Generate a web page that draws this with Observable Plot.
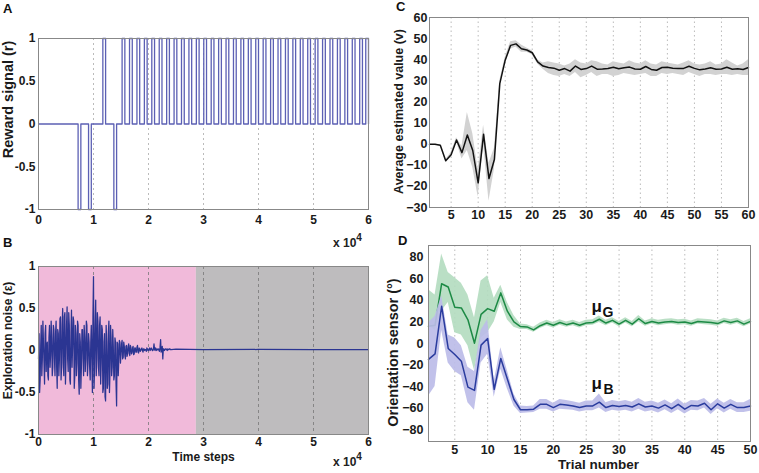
<!DOCTYPE html>
<html><head><meta charset="utf-8">
<script src="https://cdn.jsdelivr.net/npm/d3@7"></script>
<script src="https://cdn.jsdelivr.net/npm/@observablehq/plot@0.6"></script>
<style>
body{margin:0;background:#fff;}
#fig{position:relative;width:759px;height:473px;overflow:hidden;background:#fff;font-family:"Liberation Sans",Arial,sans-serif;}
.panel{position:absolute;}
.panel svg{overflow:visible;}
.lbl{position:absolute;font-weight:bold;font-size:13px;color:#111;line-height:1;}
.exp{position:absolute;font-weight:bold;font-size:12px;color:#222;line-height:1;white-space:nowrap;}
.exp sup{font-size:10px;vertical-align:6px;}
</style></head><body><div id="fig"></div>
<script>
// ---------- Panel A: reward signal ----------
const rewardNegStarts = [7200, 9100, 13700];
const rewardPosStarts = [11700, 15200, 16550, 17900, 19250, 20600, 21950, 23300, 24650, 26000, 27350, 28700,
  30050, 31400, 32750, 34100, 35450, 36800, 38150, 39500, 40850, 42200, 43550, 44900, 46250, 47600,
  48950, 50300, 51650, 53000, 54350, 55700, 57050, 58400, 59500];
const rewardPulseWidth = 500;
const timeTicks = [0, 10000, 20000, 30000, 40000, 50000, 60000];
const timeGrid = [10000, 20000, 30000, 40000, 50000];
const rewardTicks = [-1, -0.5, 0, 0.5, 1];

// ---------- Panel B: exploration noise ----------
const noiseStep = 200;
// samples at i*200
const noiseVals = [
  -0.1, -0.5, 0.05, -0.3, 0.35, -0.15, 0.2, -0.25, 0.1, -0.35,
  0.3, -0.05, 0.15, -0.2, 0.25, -0.3, 0.35, -0.45, 0.2, -0.1,
  0.4, -0.2, 0.5, -0.3, 0.45, -0.1, 0.52, -0.25, 0.3, -0.4,
  0.48, 0.05, 0.35, -0.3, 0.2, -0.15, 0.3, -0.52, 0.1, -0.2,
  0.25, -0.3, 0.15, -0.1, 0.3, -0.15, 0.1, -0.35, 0.3, -0.5,
  0.88, -0.2, 0.6, -0.1, 0.35, -0.3, 0.4, -0.15, 0.25, -0.45,
  0.2, -0.6, 0.1, -0.4, 0.35, -0.25, 0.15, -0.2, 0.05, -0.3,
  0.1, -0.66, 0.08, -0.12, 0.1, -0.05, 0.12, -0.08, 0.05, -0.1,
  0.06, -0.04, 0.08, -0.06, 0.04, -0.03, 0.05, -0.04, 0.03, -0.02,
  0.06, -0.03, 0.02, 0.0, 0.03, -0.02, 0.02, 0.01, -0.01, 0.02,
  0.0, 0.03, 0.01, 0.02, 0.0, 0.08, 0.0, 0.02, 0.01, 0.02,
  -0.01, 0.13, 0.0, -0.1, 0.02, 0.01, 0.02, 0.0, 0.01, 0.02, 0.01
];
// samples at i*200 + 100
const noiseMid = [
  0.2, -0.35, 0.3, -0.1, 0.1, -0.4, 0.3, 0.05, -0.3, 0.15,
  -0.2, 0.35, -0.3, 0.3, -0.1, 0.2, -0.2, 0.25, -0.3, 0.38,
  -0.35, 0.3, -0.15, 0.4, -0.4, 0.3, -0.1, 0.45, -0.35, 0.2,
  -0.2, 0.4, -0.45, 0.3, -0.3, 0.35, -0.35, 0.2, -0.45, 0.25,
  -0.1, 0.3, -0.25, 0.35, -0.3, 0.2, -0.2, 0.1, -0.1, 0.4,
  -0.45, 0.3, -0.3, 0.45, -0.2, 0.3, -0.4, 0.3, -0.5, 0.1,
  -0.55, 0.3, -0.45, 0.2, -0.5, 0.3, -0.3, 0.25, -0.35, 0.15,
  -0.4, 0.1, -0.3, 0.12, -0.15, 0.08, -0.1, 0.1, -0.06, 0.05,
  -0.07, 0.05, -0.03, 0.06, -0.04, 0.03, -0.05, 0.03, -0.02, 0.04,
  -0.02, 0.03, -0.01, 0.02, 0.0, 0.02, 0.0, 0.01, 0.03, 0.0,
  0.02, 0.0, 0.03, 0.0, 0.02, 0.01, 0.03, 0.0, 0.02, 0.0,
  0.04, -0.02, 0.05, 0.02, 0.0, 0.02, 0.01, 0.02, 0.01, 0.02, 0.01
];
const noiseTailT = [25000, 30000, 40000, 50000, 60000];
const noiseTailV = [0.015, 0.01, 0.012, 0.01, 0.01];
const learningEnd = 28700;
const noiseTicks = [-1, -0.5, 0, 0.5, 1];

// ---------- Panel C: average estimated value ----------
const cMean = [0, 0, -0.5, -7.9, -5, 2, -4, 4.3, -3, -18.3, 4.7, -16.3, -7.3, 28.7, 39.8, 46.8, 47.5, 45.2, 44.6, 43.3,
  39, 37, 36.3, 36, 35, 35.8, 34.6, 37, 35.4, 35.8, 37, 35.5, 35.6, 35.8, 36.4, 35.7, 36.2, 36.5, 35.6, 35.5,
  36.8, 35.4, 35, 36.3, 36.4, 36, 35.8, 35.9, 36.9, 35.9, 35.2, 35.6, 36.2, 35.5, 35.6, 36.4, 35.5, 35.7, 35.4, 36.3];
const cUpper = [0, 0, -0.3, -7.4, -4, 3, -1, 15, 5, -12, 9, -9, -2, 30, 41, 48.5, 49, 47, 45.5, 44.3,
  40, 38.5, 39, 38.5, 38, 37, 38, 40, 38.5, 38, 39.5, 39, 38, 37.5, 39, 38.5, 38, 39.5, 38.5, 38,
  39.5, 38, 37.5, 39, 38.5, 38, 37.5, 38.5, 39.5, 38, 37.5, 38, 39, 37.5, 38, 40, 38.5, 37, 38, 40];
const cLower = [0, 0, -0.7, -8.4, -6, 1, -7, -3, -11, -25, 0, -27, -12, 27, 38.5, 45, 46, 43.5, 43.5, 42.3,
  38, 35.5, 33.5, 32.5, 32, 33, 32, 34, 31.5, 32.5, 34, 32, 33, 33, 32, 32.5, 33.5, 33, 32.5, 33,
  33.5, 32, 32, 33.5, 33, 33.5, 33, 32.5, 34, 33, 32, 33, 33, 32.5, 33, 33, 32.5, 33, 32.5, 32.5];
const cYTicks = [-30, -20, -10, 0, 10, 20, 30, 40, 50, 60];
const cXTicks = [5, 10, 15, 20, 25, 30, 35, 40, 45, 50, 55, 60];

// ---------- Panel D: orientation sensor ----------
const gMean = [16, 17, 55.5, 52.5, 33.6, 33, 22, 0.3, 27, 32.4, 30, 47, 30, 20, 15.7, 15.4,
  12.6, 16.5, 19, 17, 19.5, 17.5, 19, 17, 19, 19.5, 22.5, 19, 21.5, 18, 21.5, 18, 23, 18.5, 20.5, 19,
  20, 20.5, 19.5, 20, 18.5, 20.5, 20, 19.5, 18.5, 21, 19.5, 21, 18, 20.5];
const gUpper = [50, 45, 83, 66, 61, 56, 45, 24, 58, 63, 42, 54, 38, 26, 18, 17.5,
  15, 19, 21.5, 19.5, 22, 20, 21.5, 19.5, 21.5, 22, 25.5, 21.5, 24, 20.5, 24, 20.5, 26, 21, 23, 21.5,
  22.5, 23, 22, 22.5, 21, 23, 22.5, 22, 21, 23.5, 22, 23.5, 20.5, 23];
const gLower = [17, 12, 30, 38, 10, 8, -2, -25, 5, 10, 20, 38, 22, 15, 13, 13,
  10.5, 14, 16.5, 14.5, 17, 15, 16.5, 14.5, 16.5, 17, 19.5, 16.5, 19, 15.5, 19, 15.5, 20, 16, 18, 16.5,
  17.5, 18, 17, 17.5, 16, 18, 17.5, 17, 16, 18.5, 17, 18.5, 15.5, 18];
const bMean = [-14.8, -9.6, 34.6, -4.6, -10.2, -16.4, -40.5, -43.5, -1.5, 4.6, -42.6, -13.9, -33, -52,
  -61.5, -61.5, -61, -56.5, -56.5, -59.5, -56.5, -57, -58, -59.5, -58, -58, -54.5, -59.5, -57.5, -58.5,
  -57.5, -59, -56, -59, -58, -60, -57, -60.5, -56.5, -61, -57.5, -58, -55.5, -61.5, -56, -60, -56.5, -59.5, -59.5, -58];
const bUpper = [19, 25, 44, 8, 5, -2, -22, -26, 12, 22, -35, -4, -25, -47,
  -58, -58.5, -58, -52, -52, -55.5, -52, -53, -54, -55.5, -53.5, -53.5, -47, -55, -53, -54,
  -53, -54.5, -51, -54.5, -53.5, -55.5, -52.5, -56, -51.5, -56.5, -53, -53.5, -51, -56.5, -51.5, -55.5, -52, -55, -55, -52];
const bLower = [-49, -40, 12, -18, -26, -30, -55, -62, -18, -10, -50, -24, -42, -58,
  -65, -64.5, -64, -61, -61, -63.5, -61, -61.5, -62, -63.5, -62.5, -62.5, -60, -64, -62, -63,
  -62, -63.5, -61, -63.5, -62.5, -64.5, -61.5, -65, -61.5, -65.5, -62, -62.5, -60, -66, -60.5, -64.5, -61, -64, -64, -63];
const dYTicks = [-80, -60, -40, -20, 0, 20, 40, 60, 80];
const dXTicks = [5, 10, 15, 20, 25, 30, 35, 40, 45, 50];
const dNotes = [
  {t: 26.6, v: 34, s: "μ", fs: 17, fw: "normal"},
  {t: 28.3, v: 28.5, s: "G", fs: 14, fw: "bold"},
  {t: 26.6, v: -37, s: "μ", fs: 17, fw: "normal"},
  {t: 28.4, v: -43, s: "B", fs: 14, fw: "bold"}
];

// ---------- drawing ----------
const FONT = "'Liberation Sans', Arial, Helvetica, sans-serif";
const styleAB = {fontFamily: FONT, fontSize: "12px", fontWeight: "bold", color: "#1a1a1a", background: "transparent", overflow: "visible"};
const styleCD = {...styleAB, fontSize: "12.5px"};
const fig = document.getElementById("fig");
function place(el, left, top) {
  const d = document.createElement("div");
  d.className = "panel"; d.style.left = left + "px"; d.style.top = top + "px";
  d.appendChild(el); fig.appendChild(d);
}
function html(cls, left, top, inner) {
  const d = document.createElement("div");
  d.className = cls; d.style.left = left + "px"; d.style.top = top + "px";
  d.innerHTML = inner; fig.appendChild(d);
}
function yLabel(text, dx, dy, fs) {
  return Plot.text([text], {text: d => d, frameAnchor: "left", textAnchor: "middle", lineAnchor: "middle",
    rotate: -90, dx, dy, fontWeight: "bold", fontSize: fs, fill: "#1a1a1a"});
}
function xLabel(text, dx, dy, fs) {
  return Plot.text([text], {text: d => d, frameAnchor: "bottom", textAnchor: "middle", lineAnchor: "middle",
    dx, dy, fontSize: fs, fontWeight: "bold", fill: "#1a1a1a"});
}

// A
const pulses = [...rewardNegStarts.map(s => ({s, v: -1})), ...rewardPosStarts.map(s => ({s, v: 1}))].sort((a, b) => a.s - b.s);
const aPts = [{t: 0, r: 0}];
for (const p of pulses) {
  aPts.push({t: p.s, r: 0}, {t: p.s, r: p.v}, {t: p.s + rewardPulseWidth, r: p.v}, {t: p.s + rewardPulseWidth, r: 0});
}
aPts.push({t: 60000, r: 0});

place(Plot.plot({
  width: 380, height: 240, marginLeft: 38, marginRight: 12, marginTop: 38, marginBottom: 31,
  style: styleAB,
  x: {domain: [0, 60000]}, y: {domain: [-1, 1]},
  marks: [
    Plot.ruleX(timeGrid, {stroke: "#aaa", strokeDasharray: "2,3", strokeWidth: 0.8}),
    Plot.line(aPts, {x: "t", y: "r", stroke: "#5c60b4", strokeWidth: 1.3}),
    Plot.frame({stroke: "#888"}),
    Plot.axisX({ticks: timeTicks, tickFormat: d => d / 1e4, tickSize: 0, tickPadding: 6, label: null}),
    Plot.axisY({ticks: rewardTicks, tickFormat: d => String(d), tickSize: 0, tickPadding: 3, label: null}),
    yLabel("Reward signal (r)", -30, -24.5, 14.5)
  ]
}), 0, 0);

// B
const bPts = [];
noiseVals.forEach((v, i) => {
  bPts.push({t: i * noiseStep, e: v});
  bPts.push({t: i * noiseStep + noiseStep / 2, e: noiseMid[i]});
});
noiseTailT.forEach((t, i) => bPts.push({t, e: noiseTailV[i]}));
place(Plot.plot({
  width: 380, height: 233, marginLeft: 38, marginRight: 12, marginTop: 26, marginBottom: 39,
  style: styleAB,
  x: {domain: [0, 60000]}, y: {domain: [-1, 1]},
  marks: [
    Plot.rect([{a: 0, b: learningEnd}], {x1: "a", x2: "b", y1: -1, y2: 1, fill: "#f1bada"}),
    Plot.rect([{a: learningEnd, b: 60000}], {x1: "a", x2: "b", y1: -1, y2: 1, fill: "#bebcbe"}),
    Plot.ruleX(timeGrid, {stroke: "#777", strokeDasharray: "3,3", strokeWidth: 0.8}),
    Plot.line(bPts, {x: "t", y: "e", stroke: "#2b3592", strokeWidth: 1.25}),
    Plot.frame({stroke: "#888"}),
    Plot.axisX({ticks: timeTicks, tickFormat: d => d / 1e4, tickSize: 0, tickPadding: 3, label: null}),
    Plot.axisY({ticks: noiseTicks, tickFormat: d => String(d), tickSize: 0, tickPadding: 3, label: null}),
    yLabel("Exploration noise (ε)", -30, -10, 12),
    xLabel("Time steps", 0, 23, 12)
  ]
}), 0, 240);

// C
const cData = cMean.map((m, i) => ({t: i + 1, m, lo: cLower[i], hi: cUpper[i]}));
place(Plot.plot({
  width: 379, height: 240, marginLeft: 49, marginRight: 11, marginTop: 17, marginBottom: 33,
  style: styleCD,
  x: {domain: [1, 60]}, y: {domain: [-30, 60]},
  marks: [
    Plot.ruleX(cXTicks.slice(0, -1), {stroke: "#aaa", strokeDasharray: "1.5,3", strokeWidth: 0.8}),
    Plot.areaY(cData, {x: "t", y1: "lo", y2: "hi", fill: "#d2d2d2"}),
    Plot.line(cData, {x: "t", y: "m", stroke: "#111", strokeWidth: 1.5}),
    Plot.frame({stroke: "#888"}),
    Plot.axisX({ticks: cXTicks, tickSize: 0, tickPadding: 3, label: null}),
    Plot.axisY({ticks: cYTicks, tickSize: 0, tickPadding: 2, label: null}),
    yLabel("Average estimated value (v)", -31, -1, 12.5)
  ]
}), 380, 0);

// D
const gData = gMean.map((m, i) => ({t: i + 1, m, lo: gLower[i], hi: gUpper[i]}));
const bData = bMean.map((m, i) => ({t: i + 1, m, lo: bLower[i], hi: bUpper[i]}));
place(Plot.plot({
  width: 379, height: 233, marginLeft: 48, marginRight: 9, marginTop: 5, marginBottom: 32,
  style: styleCD,
  x: {domain: [1, 50]}, y: {domain: [-91, 91]},
  marks: [
    Plot.ruleX(dXTicks.slice(0, -1), {stroke: "#aaa", strokeDasharray: "1.5,3", strokeWidth: 0.8}),
    Plot.areaY(gData, {x: "t", y1: "lo", y2: "hi", fill: "#b3dcbf", fillOpacity: 0.9}),
    Plot.line(gData, {x: "t", y: "m", stroke: "#1d8a45", strokeWidth: 1.5}),
    Plot.areaY(bData, {x: "t", y1: "lo", y2: "hi", fill: "#bcbce8", fillOpacity: 0.92}),
    Plot.line(bData, {x: "t", y: "m", stroke: "#2a3c9e", strokeWidth: 1.5}),
    Plot.text(dNotes, {x: "t", y: "v", text: "s", fontSize: d => d.fs, fontWeight: d => d.fw, fill: "#111"}),
    Plot.frame({stroke: "#888"}),
    Plot.axisX({ticks: dXTicks, tickSize: 0, tickPadding: 4, label: null}),
    Plot.axisY({ticks: dYTicks, tickSize: 0, tickPadding: 5, label: null}),
    yLabel("Orientation sensor (°)", -35, 9, 14.5),
    xLabel("Trial number", 9, 23.5, 13.5)
  ]
}), 380, 240);

// panel letters and exponents
html("lbl", 3, 2, "A");
html("lbl", 3, 236, "B");
html("lbl", 396, 0, "C");
html("lbl", 398, 234, "D");
html("exp", 333, 233, "x 10<sup>4</sup>");
html("exp", 333, 452, "x 10<sup>4</sup>");
</script></body></html>
